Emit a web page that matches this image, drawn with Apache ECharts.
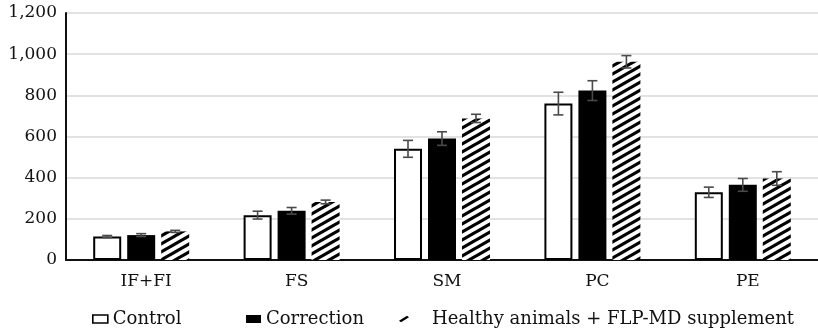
<!DOCTYPE html>
<html>
<head>
<meta charset="utf-8">
<script src="https://cdn.jsdelivr.net/npm/echarts@6/dist/echarts.min.js"></script>
<style>html,body{margin:0;padding:0;background:#fff;}#c{width:818px;height:330px;}</style>
</head>
<body>
<div id="c"></div>
<script>
const categories = ['IF+FI', 'FS', 'SM', 'PC', 'PE'];
const seriesNames = ['Control', 'Correction', 'Healthy animals + FLP-MD supplement'];
const controlValues = [114, 218, 540, 760, 329];
const controlErrors = [5, 19, 41, 55, 25];
const correctionValues = [121, 239, 590, 823, 365];
const correctionErrors = [7, 16, 33, 48, 31];
const healthyValues = [139, 282, 688, 963, 396];
const healthyErrors = [5, 9, 20, 30, 33];
const yTicks = [0, 200, 400, 600, 800, 1000, 1200];

const FONT = 'DejaVu Serif';

// hatch pattern
const TW = 14, TH = 8;
const pc = document.createElement('canvas');
pc.width = TW; pc.height = TH;
const g = pc.getContext('2d');
g.fillStyle = '#fff'; g.fillRect(0, 0, TW, TH);
g.strokeStyle = '#000'; g.lineWidth = 3.2; g.lineCap = 'butt';
for (let k = -1; k <= 1; k++) {
  g.beginPath();
  g.moveTo(-3 + k * TW, TH + TH * (3 / TW));
  g.lineTo(TW + 3 + k * TW, 0 - TH * (3 / TW));
  g.stroke();
}
const hatch = { image: pc, repeat: 'repeat' };

const BAR_W = 28, STEP = 34;
function errSeries(vals, errs, idx) {
  return {
    type: 'custom',
    name: 'err' + idx,
    z: 10,
    data: vals.map((v, i) => [i, v, errs[i]]),
    encode: { x: 0, y: 1 },
    renderItem: function (params, api) {
      const i = api.value(0), v = api.value(1), e = api.value(2);
      const off = (idx - 1) * STEP;
      const hi = api.coord([i, v + e]);
      const lo = api.coord([i, v - e]);
      const x = hi[0] + off;
      const style = { stroke: '#4a4a4a', lineWidth: 1.6 };
      return {
        type: 'group',
        children: [
          { type: 'line', shape: { x1: x, y1: hi[1], x2: x, y2: lo[1] }, style: style },
          { type: 'line', shape: { x1: x - 5, y1: hi[1], x2: x + 5, y2: hi[1] }, style: style },
          { type: 'line', shape: { x1: x - 5, y1: lo[1], x2: x + 5, y2: lo[1] }, style: style }
        ]
      };
    }
  };
}

const chart = echarts.init(document.getElementById('c'), null, { renderer: 'canvas' });
chart.setOption({
  animation: false,
  backgroundColor: '#fff',
  textStyle: { fontFamily: FONT },
  grid: { left: 66, top: 13, width: 760, height: 247, containLabel: false },
  xAxis: {
    type: 'category',
    data: categories,
    axisLine: { lineStyle: { color: '#111', width: 2 } },
    axisTick: { show: false },
    axisLabel: { color: '#111', fontFamily: FONT, fontSize: 17, margin: 13, padding: [0, 0, 0, 10] },
    splitLine: { show: false }
  },
  yAxis: {
    type: 'value',
    min: yTicks[0],
    max: yTicks[yTicks.length - 1],
    interval: 200,
    axisLine: { show: true, lineStyle: { color: '#111', width: 2 } },
    axisTick: { show: false },
    axisLabel: {
      color: '#111', fontFamily: FONT, fontSize: 17, margin: 9,
      formatter: v => v.toLocaleString('en-US')
    },
    splitLine: { lineStyle: { color: '#d9d9d9', width: 1.5 } }
  },
  legend: [
    {
      left: 92, top: 310, padding: 0, itemWidth: 15, itemHeight: 8, itemGap: 0,
      textStyle: { fontFamily: FONT, fontSize: 18, color: '#111' },
      data: [{ name: seriesNames[0], icon: 'rect', itemStyle: { color: '#fff', borderColor: '#000', borderWidth: 1.6 } }]
    },
    {
      left: 246, top: 310, padding: 0, itemWidth: 15, itemHeight: 8, itemGap: 0,
      textStyle: { fontFamily: FONT, fontSize: 18, color: '#111' },
      data: [{ name: seriesNames[1], icon: 'rect', itemStyle: { color: '#000' } }]
    },
    {
      left: 399, top: 310, padding: 0, itemWidth: 10, itemHeight: 7, itemGap: 0,
      textStyle: { fontFamily: FONT, fontSize: 18, color: '#111', padding: [0, 0, 0, 18] },
      data: [{ name: seriesNames[2], icon: 'path://M0,5 L8,0 L10,1.6 L2,6.6 Z', itemStyle: { color: '#000' } }]
    }
  ],
  series: [
    {
      name: seriesNames[0], type: 'bar', data: controlValues, barWidth: BAR_W, barGap: '21.4%',
      itemStyle: { color: '#fff', borderColor: '#000', borderWidth: 2 }
    },
    {
      name: seriesNames[1], type: 'bar', data: correctionValues, barWidth: BAR_W, barGap: '21.4%',
      itemStyle: { color: '#000' }
    },
    {
      name: seriesNames[2], type: 'bar', data: healthyValues, barWidth: BAR_W, barGap: '21.4%',
      itemStyle: { color: hatch }
    },
    errSeries(controlValues, controlErrors, 0),
    errSeries(correctionValues, correctionErrors, 1),
    errSeries(healthyValues, healthyErrors, 2)
  ]
});
</script>
</body>
</html>
